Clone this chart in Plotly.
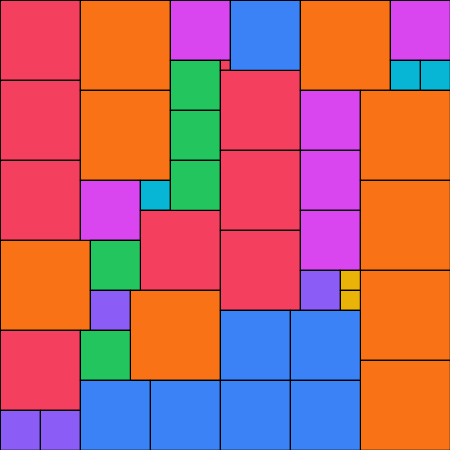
import plotly.graph_objects as go

# Cells: left, top, width, height (in chart units), and colour group
left = [0, 0, 0, 0, 0, 0, 40,
        80, 80, 80, 140, 140, 90, 90, 130, 80, 80, 150,
        170, 170, 170, 170, 220, 220, 220, 220,
        230, 300, 390, 390, 420, 300, 300, 300,
        360, 360, 360, 360, 300, 340, 340,
        220, 290, 220, 290]
top = [0, 80, 160, 240, 330, 410, 410,
       0, 90, 180, 180, 210, 240, 290, 290, 330, 380, 380,
       0, 60, 110, 160, 60, 70, 150, 230,
       0, 0, 0, 60, 60, 90, 150, 210,
       90, 180, 270, 360, 270, 270, 290,
       310, 310, 380, 380]
width = [80, 80, 80, 90, 80, 40, 40,
         90, 90, 60, 30, 80, 50, 40, 90, 50, 70, 70,
         60, 50, 50, 50, 10, 80, 80, 80,
         70, 90, 60, 30, 30, 60, 60, 60,
         90, 90, 90, 90, 40, 20, 20,
         70, 70, 70, 70]
height = width
group = ["rose", "rose", "rose", "orange", "rose", "violet", "violet",
         "orange", "orange", "fuchsia", "cyan", "rose", "green", "violet", "orange", "green", "blue", "blue",
         "fuchsia", "green", "green", "green", "rose", "rose", "rose", "rose",
         "blue", "orange", "fuchsia", "cyan", "cyan", "fuchsia", "fuchsia", "fuchsia",
         "orange", "orange", "orange", "orange", "violet", "yellow", "yellow",
         "blue", "blue", "blue", "blue"]

palette = {
    "rose": "#F43F5E", "orange": "#F97316", "fuchsia": "#D946EF", "blue": "#3B82F6",
    "green": "#22C55E", "cyan": "#06B6D4", "violet": "#8B5CF6", "yellow": "#EAB308",
}

fig = go.Figure()
fig.add_trace(go.Bar(
    x=[l + w / 2 for l, w in zip(left, width)],
    y=height,
    base=top,
    width=width,
    marker=dict(color=[palette[g] for g in group], line=dict(color="#000000", width=1.2)),
    hoverinfo="skip",
    showlegend=False,
))
fig.update_layout(
    width=450, height=450,
    margin=dict(l=0, r=0, t=0, b=0),
    paper_bgcolor="white", plot_bgcolor="white",
    barmode="overlay", bargap=0,
    xaxis=dict(range=[-0.5, 449.5], visible=False, fixedrange=True),
    yaxis=dict(range=[449.5, -0.5], visible=False, fixedrange=True),
)
fig.write_html(
    "out.html",
    config={"displayModeBar": False},
    post_script="document.body.style.margin='0';document.body.style.overflow='hidden';",
)
